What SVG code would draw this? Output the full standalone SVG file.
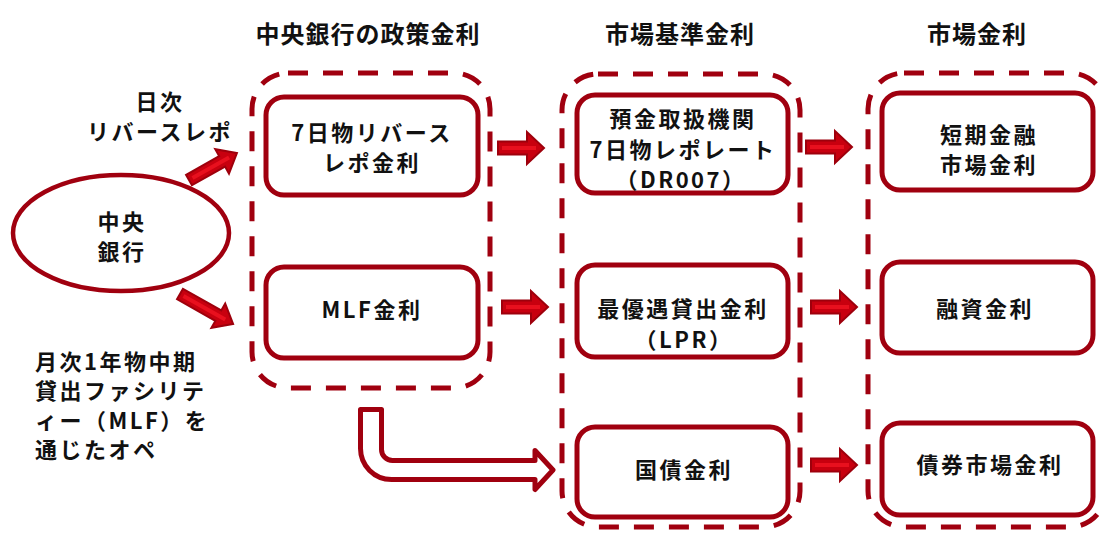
<svg xmlns="http://www.w3.org/2000/svg" width="1100" height="533" viewBox="0 0 1100 533">
  <style>
    .t { font-family: "Noto Sans CJK JP", "Noto Sans", sans-serif; font-weight: bold; font-size: 22px; letter-spacing: 2.5px; fill: #111; text-anchor: middle; dominant-baseline: central; }
    .h { font-size: 24px; letter-spacing: 1px; }
    .tl { text-anchor: start; }
    .grp { fill: none; stroke: #A0000F; stroke-width: 5; stroke-dasharray: 20 15; }
    .box { fill: #fff; stroke: #A0000F; stroke-width: 5; }
    .cb { fill: #fff; stroke: #A0000F; stroke-width: 4.5; }
    .ar { fill: #C8000F; stroke: #9E000C; stroke-width: 2; stroke-linejoin: miter; }
    .hl { stroke: #E8101E; stroke-width: 4; fill: none; }
    .hollow { fill: #fff; stroke: #A0000F; stroke-width: 5; stroke-linejoin: round; }
  </style>
  <defs>
    <g id="harrow">
      <path class="ar" d="M0,-6.5 H29 V-16 L46,0 L29,16 V6.5 H0 Z"/>
      <path class="hl" d="M4,0 H38"/>
    </g>
  </defs>

  <rect width="1100" height="533" fill="#fff"/>

  <!-- headers -->
  <g id="headers">
    <text class="t h" x="368" y="32">中央銀行の政策金利</text>
    <text class="t h" x="680" y="32">市場基準金利</text>
    <text class="t h" x="977" y="32">市場金利</text>
  </g>

  <!-- group containers -->
  <g id="group-policy"><rect class="grp" x="252" y="73" width="238" height="315" rx="36"/></g>
  <g id="group-benchmark"><rect class="grp" x="562" y="74" width="238" height="453" rx="36"/></g>
  <g id="group-market"><rect class="grp" x="868" y="73" width="238" height="454" rx="36"/></g>

  <!-- central bank -->
  <g id="node-central-bank">
    <ellipse class="cb" cx="121" cy="233" rx="108" ry="58"/>
    <text class="t"><tspan x="122" y="220">中央</tspan><tspan x="122" y="250">銀行</tspan></text>
  </g>

  <!-- policy column -->
  <g id="node-reverse-repo">
    <rect class="box" x="266" y="97" width="212" height="98" rx="18"/>
    <text class="t"><tspan x="372" y="131">7日物リバース</tspan><tspan x="372" y="161">レポ金利</tspan></text>
  </g>
  <g id="node-mlf">
    <rect class="box" x="266" y="267" width="212" height="91" rx="18"/>
    <text class="t" x="372" y="308">MLF金利</text>
  </g>

  <!-- benchmark column -->
  <g id="node-dr007">
    <rect class="box" x="577" y="95" width="211" height="98" rx="18"/>
    <text class="t"><tspan x="683" y="117">預金取扱機関</tspan><tspan x="683" y="148">7日物レポレート</tspan><tspan x="681" y="178">（DR007）</tspan></text>
  </g>
  <g id="node-lpr">
    <rect class="box" x="577" y="265" width="211" height="92" rx="18"/>
    <text class="t"><tspan x="683" y="307">最優遇貸出金利</tspan><tspan x="684" y="338">（LPR）</tspan></text>
  </g>
  <g id="node-govbond">
    <rect class="box" x="577" y="427" width="211" height="90" rx="18"/>
    <text class="t" x="684" y="468">国債金利</text>
  </g>

  <!-- market column -->
  <g id="node-short-term">
    <rect class="box" x="882" y="93" width="211" height="97" rx="18"/>
    <text class="t"><tspan x="989" y="133">短期金融</tspan><tspan x="989" y="163">市場金利</tspan></text>
  </g>
  <g id="node-loan">
    <rect class="box" x="882" y="262" width="211" height="91" rx="18"/>
    <text class="t" x="985" y="307">融資金利</text>
  </g>
  <g id="node-bond-market">
    <rect class="box" x="882" y="423" width="211" height="92" rx="18"/>
    <text class="t" x="990" y="463">債券市場金利</text>
  </g>

  <!-- labels -->
  <g id="label-daily">
    <text class="t"><tspan x="160" y="100">日次</tspan><tspan x="160" y="130">リバースレポ</tspan></text>
  </g>
  <g id="label-monthly">
    <text class="t tl"><tspan x="35" y="360">月次1年物中期</tspan><tspan x="35" y="389">貸出ファシリテ</tspan><tspan x="35" y="419">ィー（MLF）を</tspan><tspan x="35" y="448">通じたオペ</tspan></text>
  </g>

  <!-- connectors -->
  <g id="connectors">
    <g transform="translate(189,180) rotate(-29.4)">
      <path class="ar" d="M0,-6 H38 V-14 L55,0 L38,14 V6 H0 Z"/>
      <path class="hl" d="M4,0 H46"/>
    </g>
    <g transform="translate(180,294) rotate(29.5)">
      <path class="ar" d="M0,-6 H44 V-14 L61,0 L44,14 V6 H0 Z"/>
      <path class="hl" d="M4,0 H52"/>
    </g>
    <use href="#harrow" x="498" y="148"/>
    <use href="#harrow" x="502" y="307"/>
    <use href="#harrow" x="806" y="147"/>
    <use href="#harrow" x="811" y="307"/>
    <use href="#harrow" x="811" y="465"/>
    <path class="hollow" d="M360.5,409.5 H381.5 V449.5 A11,11 0 0 0 392.5,460.5 H535 V450.5 L553,470 L535,489.5 V479.5 H391.5 A31,31 0 0 1 360.5,448.5 Z"/>
  </g>
</svg>
